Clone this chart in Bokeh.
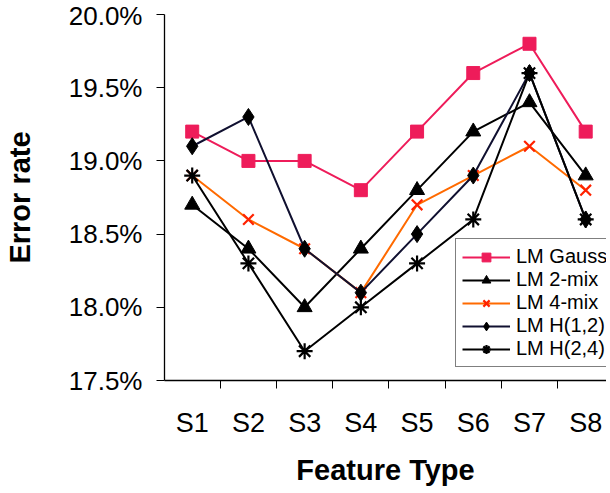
from bokeh.plotting import figure
from bokeh.models import FixedTicker, Legend, LegendItem, NumeralTickFormatter
from bokeh.embed import file_html
from bokeh.resources import INLINE

categories = ["S1", "S2", "S3", "S4", "S5", "S6", "S7", "S8"]
lm_gauss = [19.2, 19.0, 19.0, 18.8, 19.2, 19.6, 19.8, 19.2]
lm_2mix = [18.7, 18.4, 18.0, 18.4, 18.8, 19.2, 19.4, 18.9]
lm_4mix = [18.9, 18.6, 18.4, 18.1, 18.7, 18.9, 19.1, 18.8]
lm_h12 = [19.1, 19.3, 18.4, 18.1, 18.5, 18.9, 19.6, 18.6]
lm_h24 = [18.9, 18.3, 17.7, 18.0, 18.3, 18.6, 19.6, 18.6]
y_ticks = [17.5, 18.0, 18.5, 19.0, 19.5, 20.0]

xs = list(range(1, len(categories) + 1))

p = figure(width=606, height=488, output_backend="svg", toolbar_location=None,
           x_range=(0.507, 8.37), y_range=(17.5, 20.0),
           min_border_left=159, min_border_right=0, min_border_top=14, min_border_bottom=108)
p.outline_line_color = None
p.grid.grid_line_color = None
p.background_fill_color = "white"

FONT = "Liberation Sans"

# x axis
p.xaxis.ticker = FixedTicker(ticks=xs, minor_ticks=[x + 0.5 for x in range(0, 9)])
p.xaxis.major_label_overrides = {i + 1: c for i, c in enumerate(categories)}
p.xaxis.major_tick_line_color = None
p.xaxis.major_tick_out = 8
p.xaxis.major_tick_in = 0
p.xaxis.minor_tick_out = 8
p.xaxis.minor_tick_in = 0
p.xaxis.minor_tick_line_color = "black"
p.xaxis.major_label_text_font = FONT
p.xaxis.major_label_text_font_size = "27px"
p.xaxis.major_label_text_color = "black"
p.xaxis.major_label_standoff = 19
p.xaxis.axis_label = "Feature Type"
p.xaxis.axis_label_text_font = FONT
p.xaxis.axis_label_text_font_style = "bold"
p.xaxis.axis_label_text_font_size = "29px"
p.xaxis.axis_label_text_color = "black"
p.xaxis.axis_label_standoff = 13
p.xaxis.axis_line_color = "black"
p.xaxis.axis_line_width = 1.3

# y axis
p.yaxis.ticker = FixedTicker(ticks=y_ticks, minor_ticks=[])
p.yaxis.formatter = NumeralTickFormatter(format="0.0")
p.yaxis.major_label_overrides = {t: f"{t:.1f}%" for t in y_ticks}
p.yaxis.major_tick_out = 8
p.yaxis.major_tick_in = 0
p.yaxis.major_label_text_font = FONT
p.yaxis.major_label_text_font_size = "26px"
p.yaxis.major_label_text_color = "black"
p.yaxis.major_label_standoff = 14
p.yaxis.axis_label = "Error rate"
p.yaxis.axis_label_text_font = FONT
p.yaxis.axis_label_text_font_style = "bold"
p.yaxis.axis_label_text_font_size = "29px"
p.yaxis.axis_label_text_color = "black"
p.yaxis.axis_label_standoff = 30
p.yaxis.axis_line_color = "black"
p.yaxis.axis_line_width = 1.3

series = [
    ("LM Gauss", lm_gauss, "#EE1C5A", "square", "#EE1C5A", 13),
    ("LM 2-mix", lm_2mix, "black", "triangle", "black", 15),
    ("LM 4-mix", lm_4mix, "#FF6A00", "x", "#FF2200", 15),
    ("LM H(1,2)", lm_h12, "#101030", "diamond", "black", 17),
    ("LM H(2,4)", lm_h24, "black", "asterisk", "black", 16),
]

items = []
for name, vals, lc, marker, mc, size in series:
    r1 = p.line(xs, vals, line_color=lc, line_width=2)
    r2 = p.scatter(xs, vals, marker=marker, size=size, fill_color=mc,
                   line_color=mc, line_width=2.2 if marker in ("x", "asterisk") else 1)
    items.append(LegendItem(label=name, renderers=[r1, r2]))

legend = Legend(items=items, location=(291, 13))
legend.label_text_font = FONT
legend.label_text_font_size = "20px"
legend.label_text_color = "black"
legend.border_line_color = "black"
legend.border_line_width = 1
legend.background_fill_color = "white"
legend.background_fill_alpha = 1
legend.glyph_width = 48
legend.glyph_height = 22
legend.label_standoff = 6
legend.spacing = 0
legend.padding = 6
legend.margin = 0
legend.label_height = 22
p.add_layout(legend, "center")

open("out.html", "w").write(file_html(p, INLINE))
